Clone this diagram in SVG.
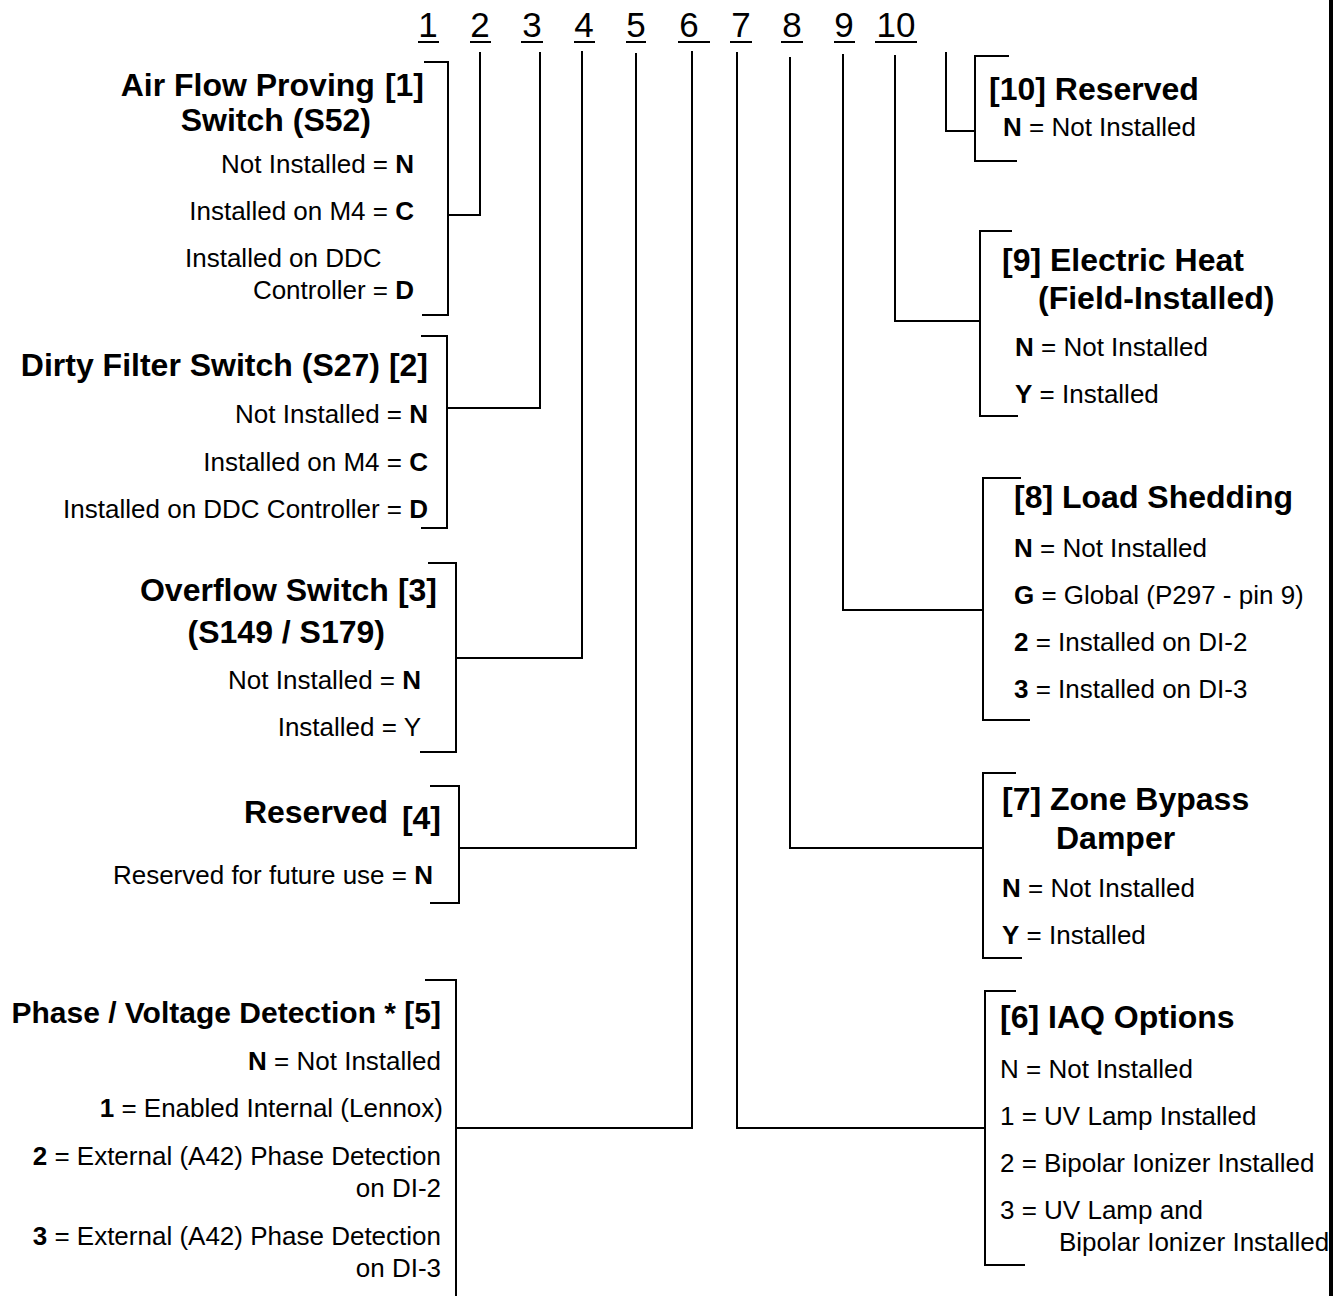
<svg xmlns="http://www.w3.org/2000/svg" width="1344" height="1296" viewBox="0 0 1344 1296">
<style>
text{font-family:"Liberation Sans",Arial,sans-serif;fill:#000}
.h{font-size:35px}
.t{font-size:32px;font-weight:bold}
.o{font-size:26px}
.e{text-anchor:end}
.b{font-weight:bold}
.br,.cn{fill:none;stroke:#000;stroke-width:2}
.ul{stroke:#000;stroke-width:2}
</style>
<rect width="1344" height="1296" fill="#fff"/>
<g id="header">
<text class="h" x="428" y="37" text-anchor="middle">1</text>
<text class="h" x="480" y="37" text-anchor="middle">2</text>
<text class="h" x="532" y="37" text-anchor="middle">3</text>
<text class="h" x="584" y="37" text-anchor="middle">4</text>
<text class="h" x="636" y="37" text-anchor="middle">5</text>
<text class="h" x="689" y="37" text-anchor="middle">6</text>
<text class="h" x="741" y="37" text-anchor="middle">7</text>
<text class="h" x="792" y="37" text-anchor="middle">8</text>
<text class="h" x="844" y="37" text-anchor="middle">9</text>
<text class="h" x="896" y="37" text-anchor="middle">10</text>
<line class="ul" x1="418" y1="42" x2="439" y2="42"/>
<line class="ul" x1="470" y1="42" x2="491" y2="42"/>
<line class="ul" x1="521" y1="42" x2="543" y2="42"/>
<line class="ul" x1="574" y1="42" x2="595" y2="42"/>
<line class="ul" x1="626" y1="42" x2="646" y2="42"/>
<line class="ul" x1="678" y1="42" x2="710" y2="42"/>
<line class="ul" x1="730" y1="42" x2="752" y2="42"/>
<line class="ul" x1="781" y1="42" x2="803" y2="42"/>
<line class="ul" x1="834" y1="42" x2="855" y2="42"/>
<line class="ul" x1="875" y1="42" x2="917" y2="42"/>
</g>
<g id="connectors">
<path class="cn" d="M448,215 H480 V52"/>
<path class="cn" d="M447,408 H540 V52"/>
<path class="cn" d="M456,658 H582 V51"/>
<path class="cn" d="M459,848 H636 V53"/>
<path class="cn" d="M456,1128 H692 V51"/>
<path class="cn" d="M985,1128 H737 V52"/>
<path class="cn" d="M983,848 H790 V57"/>
<path class="cn" d="M983,610 H843 V54"/>
<path class="cn" d="M980,321 H895 V55"/>
<path class="cn" d="M975,131 H946 V52"/>
</g>
<g id="opt1">
<path class="br" d="M424,62 H448 V315 H422"/>
<text class="t" x="424" y="96" text-anchor="end">Air Flow Proving<tspan dx="10">[1]</tspan></text>
<text class="t" x="371" y="131" text-anchor="end">Switch (S52)</text>
<text class="o e" x="414" y="173">Not Installed = <tspan class="b">N</tspan></text>
<text class="o e" x="414" y="220">Installed on M4 = <tspan class="b">C</tspan></text>
<text class="o" x="185" y="267">Installed on DDC</text>
<text class="o e" x="414" y="299">Controller = <tspan class="b">D</tspan></text>
</g>
<g id="opt2">
<path class="br" d="M421,336 H447 V528 H421"/>
<text class="t e" x="428" y="376">Dirty Filter Switch (S27) [2]</text>
<text class="o e" x="428" y="423">Not Installed = <tspan class="b">N</tspan></text>
<text class="o e" x="428" y="471">Installed on M4 = <tspan class="b">C</tspan></text>
<text class="o e" x="428" y="518">Installed on DDC Controller = <tspan class="b">D</tspan></text>
</g>
<g id="opt3">
<path class="br" d="M428,563 H456 V752 H420"/>
<text class="t e" x="437" y="601">Overflow Switch<tspan dx="9">[3]</tspan></text>
<text class="t e" x="385" y="643">(S149 / S179)</text>
<text class="o e" x="421" y="689">Not Installed = <tspan class="b">N</tspan></text>
<text class="o e" x="421" y="736">Installed = Y</text>
</g>
<g id="opt4">
<path class="br" d="M430,786 H459 V903 H430"/>
<text class="t e" x="388" y="823">Reserved</text>
<text class="t e" x="441" y="829">[4]</text>
<text class="o e" x="433" y="884">Reserved for future use = <tspan class="b">N</tspan></text>
</g>
<g id="opt5">
<path class="br" d="M425,980 H456 V1296"/>
<text class="t e" x="441" y="1023" style="font-size:30px">Phase / Voltage Detection * [5]</text>
<text class="o e" x="441" y="1070"><tspan class="b">N</tspan> = Not Installed</text>
<text class="o e" x="443" y="1117"><tspan class="b">1</tspan> = Enabled Internal (Lennox)</text>
<text class="o e" x="441" y="1165"><tspan class="b">2</tspan> = External (A42) Phase Detection</text>
<text class="o e" x="441" y="1197">on DI-2</text>
<text class="o e" x="441" y="1245"><tspan class="b">3</tspan> = External (A42) Phase Detection</text>
<text class="o e" x="441" y="1277">on DI-3</text>
</g>
<g id="opt10">
<path class="br" d="M1009,56 H975 V161 H1017"/>
<text class="t" x="989" y="100">[10] Reserved</text>
<text class="o" x="1003" y="136"><tspan class="b">N</tspan> = Not Installed</text>
</g>
<g id="opt9">
<path class="br" d="M1012,231 H980 V416 H1018"/>
<text class="t" x="1002" y="271">[9] Electric Heat</text>
<text class="t" x="1038" y="309">(Field-Installed)</text>
<text class="o" x="1015" y="356"><tspan class="b">N</tspan> = Not Installed</text>
<text class="o" x="1015" y="403"><tspan class="b">Y</tspan> = Installed</text>
</g>
<g id="opt8">
<path class="br" d="M1021,478 H983 V720 H1030"/>
<text class="t" x="1014" y="508">[8] Load Shedding</text>
<text class="o" x="1014" y="557"><tspan class="b">N</tspan> = Not Installed</text>
<text class="o" x="1014" y="604"><tspan class="b">G</tspan> = Global (P297 - pin 9)</text>
<text class="o" x="1014" y="651"><tspan class="b">2</tspan> = Installed on DI-2</text>
<text class="o" x="1014" y="698"><tspan class="b">3</tspan> = Installed on DI-3</text>
</g>
<g id="opt7">
<path class="br" d="M1016,773 H983 V958 H1022"/>
<text class="t" x="1002" y="810">[7] Zone Bypass</text>
<text class="t" x="1056" y="849">Damper</text>
<text class="o" x="1002" y="897"><tspan class="b">N</tspan> = Not Installed</text>
<text class="o" x="1002" y="944"><tspan class="b">Y</tspan> = Installed</text>
</g>
<g id="opt6">
<path class="br" d="M1016,991 H985 V1265 H1025"/>
<text class="t" x="1000" y="1028">[6] IAQ Options</text>
<text class="o" x="1000" y="1078">N = Not Installed</text>
<text class="o" x="1000" y="1125">1 = UV Lamp Installed</text>
<text class="o" x="1000" y="1172">2 = Bipolar Ionizer Installed</text>
<text class="o" x="1000" y="1219">3 = UV Lamp and</text>
<text class="o" x="1059" y="1251">Bipolar Ionizer Installed</text>
</g>
<line id="border" x1="1331" y1="0" x2="1331" y2="1296" stroke="#000" stroke-width="4"/>
</svg>
